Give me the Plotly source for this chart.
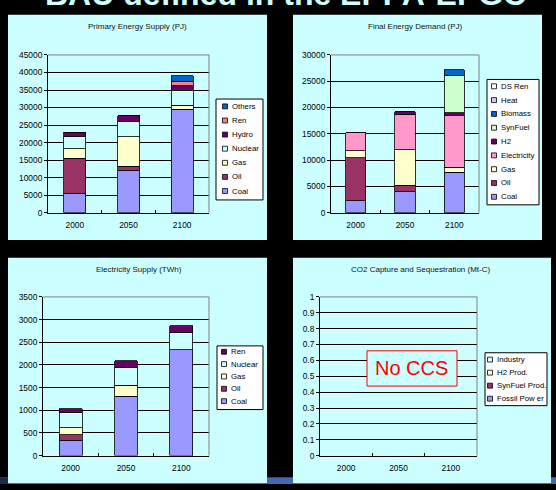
import plotly.graph_objects as go

W, H = 556, 490
FONT = "Liberation Sans"

years = ["2000", "2050", "2100"]

# Primary Energy Supply (PJ)
pes_names = ["Coal", "Oil", "Gas", "Nuclear", "Hydro", "Ren", "Others"]
pes_colors = ["#9999ff", "#993366", "#ffffcc", "#ccffff", "#660066", "#ff8080", "#0066cc"]
pes_coal = [5600, 11900, 29500]
pes_oil = [9900, 1400, 0]
pes_gas = [2700, 8400, 1200]
pes_nuclear = [3500, 4200, 4200]
pes_hydro = [1200, 1700, 1300]
pes_ren = [0, 0, 1300]
pes_others = [0, 0, 1500]

# Final Energy Demand (PJ)
fed_names = ["Coal", "Oil", "Gas", "Electricity", "H2", "SynFuel", "Biomass", "Heat", "DS Ren"]
fed_colors = ["#9999ff", "#993366", "#ffffcc", "#ff99cc", "#660066", "#ccffcc", "#0066cc", "#ccccff", "#ffffff"]
fed_coal = [2300, 4000, 7700]
fed_oil = [8150, 1200, 0]
fed_gas = [1300, 6800, 900]
fed_electricity = [3450, 6700, 9800]
fed_h2 = [0, 500, 650]
fed_synfuel = [0, 0, 6950]
fed_biomass = [0, 0, 1150]
fed_heat = [0, 0, 0]
fed_dsren = [0, 0, 0]

# Electricity Supply (TWh)
els_names = ["Coal", "Oil", "Gas", "Nuclear", "Ren"]
els_colors = ["#9999ff", "#993366", "#ffffcc", "#ccffff", "#660066"]
els_coal = [340, 1306, 2330]
els_oil = [115, 0, 0]
els_gas = [160, 245, 0]
els_nuclear = [325, 397, 390]
els_ren = [95, 144, 144]

# CO2 Capture and Sequestration (Mt-C)
ccs_names = ["Fossil Pow er", "SynFuel Prod.", "H2 Prod.", "Industry"]
ccs_colors = ["#9999ff", "#993366", "#ffffcc", "#ccffff"]
ccs_fossil = [0, 0, 0]
ccs_synfuel = [0, 0, 0]
ccs_h2 = [0, 0, 0]
ccs_industry = [0, 0, 0]


def px(x):
    return x / W


def py(y):
    return 1 - y / H


panels = [
    dict(title="Primary Energy Supply (PJ)", names=pes_names, colors=pes_colors,
         values=[pes_coal, pes_oil, pes_gas, pes_nuclear, pes_hydro, pes_ren, pes_others],
         box=(8, 10, 267, 240), plot=(48, 51, 209, 212), yrange=[0, 45000], dtick=5000,
         title_xy=(137, 22),
         legend=dict(box=(216, 96, 263, 199), first=103.5, step=14.4, sq=225, tx=229.5)),
    dict(title="Final Energy Demand (PJ)", names=fed_names, colors=fed_colors,
         values=[fed_coal, fed_oil, fed_gas, fed_electricity, fed_h2, fed_synfuel,
                 fed_biomass, fed_heat, fed_dsren],
         box=(293, 10, 542, 240), plot=(331, 51, 479, 212), yrange=[0, 30000], dtick=5000,
         title_xy=(415, 22),
         legend=dict(box=(487, 76, 539, 204), first=83, step=14.1, sq=494, tx=498.5)),
    dict(title="Electricity Supply (TWh)", names=els_names, colors=els_colors,
         values=[els_coal, els_oil, els_gas, els_nuclear, els_ren],
         box=(8, 258, 267, 488), plot=(43, 298, 209, 460), yrange=[0, 3500], dtick=500,
         title_xy=(139, 270),
         legend=dict(box=(217, 348, 263, 413), first=354, step=12.6, sq=224, tx=228.5)),
    dict(title="CO2 Capture and Sequestration (Mt-C)", names=ccs_names, colors=ccs_colors,
         values=[ccs_fossil, ccs_synfuel, ccs_h2, ccs_industry],
         box=(293, 258, 551, 488), plot=(320, 298, 477, 460), yrange=[0, 1], dtick=0.1,
         title_xy=(421, 270),
         legend=dict(box=(485, 355, 547, 409), first=362, step=13.3, sq=490, tx=494.5)),
]

fig = go.Figure()
shapes = []
annotations = []

# slide footer strip behind the panels
shapes.append(dict(type="rect", xref="paper", yref="paper", layer="below",
                   x0=0, x1=1, y0=py(489), y1=py(482), fillcolor="#4668b0", line_width=0))
shapes.append(dict(type="rect", xref="paper", yref="paper", layer="below",
                   x0=0, x1=px(8), y0=py(489), y1=py(482), fillcolor="#1c2c4c", line_width=0))

layout_axes = {}
for i, p in enumerate(panels):
    n = i + 1
    xa = "x" if n == 1 else f"x{n}"
    ya = "y" if n == 1 else f"y{n}"
    bx0, by0, bx1, by1 = p["box"]
    shapes.append(dict(type="rect", xref="paper", yref="paper", layer="below",
                       x0=px(bx0), x1=px(bx1), y0=py(by1), y1=py(by0),
                       fillcolor="#ccffff", line_width=0))

    for name, color, vals in zip(p["names"], p["colors"], p["values"]):
        outline = 0.8 if any(v > 0 for v in vals) else 0
        fig.add_trace(go.Bar(x=years, y=vals, name=name, xaxis=xa, yaxis=ya,
                             width=0.41, showlegend=False,
                             marker=dict(color=color, line=dict(color="black", width=outline))))

    x0, y0, x1, y1 = p["plot"]
    layout_axes["xaxis" if n == 1 else f"xaxis{n}"] = dict(
        domain=[px(x0), px(x1)], anchor=ya, type="category", categoryarray=years,
        range=[-0.5, 2.5], showline=True, linecolor="black", linewidth=1,
        ticks="inside", tickson="boundaries", ticklen=3, tickcolor="black",
        ticklabelstandoff=4, showgrid=False,
        tickfont=dict(family=FONT, size=8.4, color="black"))
    layout_axes["yaxis" if n == 1 else f"yaxis{n}"] = dict(
        domain=[py(y1), py(y0)], anchor=xa, range=p["yrange"], dtick=p["dtick"],
        tickformat="d" if p["dtick"] >= 1 else "",
        showline=True, linecolor="black", linewidth=1, ticks="outside", ticklen=3,
        tickcolor="black", showgrid=True, gridcolor="black", gridwidth=1,
        zeroline=False, tickfont=dict(family=FONT, size=8.4, color="black"))

    # grey frame on top and right of the plot area
    shapes.append(dict(type="line", xref="paper", yref="paper", x0=px(x0), x1=px(x1),
                       y0=py(y0), y1=py(y0), line=dict(color="#808080", width=1)))
    shapes.append(dict(type="line", xref="paper", yref="paper", x0=px(x1), x1=px(x1),
                       y0=py(y0), y1=py(y1), line=dict(color="#808080", width=1)))

    tx, ty = p["title_xy"]
    annotations.append(dict(text=p["title"], x=px(tx), y=py(ty), xref="paper", yref="paper",
                            showarrow=False, xanchor="center", yanchor="middle",
                            font=dict(family=FONT, size=8, color="#111111")))

    lg = p["legend"]
    lx0, ly0, lx1, ly1 = lg["box"]
    shapes.append(dict(type="rect", xref="paper", yref="paper", x0=px(lx0), x1=px(lx1),
                       y0=py(ly1), y1=py(ly0), fillcolor="white",
                       line=dict(color="black", width=1)))
    items = list(zip(p["names"], p["colors"]))[::-1]
    for k, (name, color) in enumerate(items):
        cy = lg["first"] + k * lg["step"]
        shapes.append(dict(type="rect", xref="paper", yref="paper",
                           x0=px(lg["sq"] - 2.5), x1=px(lg["sq"] + 2.5),
                           y0=py(cy + 2.5), y1=py(cy - 2.5), fillcolor=color,
                           line=dict(color="black", width=0.8)))
        annotations.append(dict(text=name, x=px(lg["tx"]), y=py(cy), xref="paper",
                                yref="paper", showarrow=False, xanchor="left",
                                yanchor="middle",
                                font=dict(family=FONT, size=7.8, color="black")))

# "No CCS" label box on the sequestration chart
shapes.append(dict(type="rect", xref="paper", yref="paper", x0=px(367), x1=px(457),
                   y0=py(389), y1=py(353), fillcolor="#ccffff",
                   line=dict(color="#ff0000", width=1)))
annotations.append(dict(text="No CCS", x=px(412), y=py(371), xref="paper", yref="paper",
                        showarrow=False, xanchor="center", yanchor="middle",
                        font=dict(family=FONT, size=20, color="#ff0000")))

# slide heading, mostly above the visible area
annotations.append(dict(text="<b>BAU defined in the EPPA-EPGC</b>", x=px(285), y=py(9),
                        xref="paper", yref="paper", showarrow=False, xanchor="center",
                        yanchor="bottom", font=dict(family=FONT, size=32, color="#ccffff")))

fig.update_layout(
    width=W, height=H, margin=dict(l=0, r=0, t=0, b=0),
    paper_bgcolor="black", plot_bgcolor="#c0c0c0",
    barmode="stack", showlegend=False,
    shapes=shapes, annotations=annotations, **layout_axes)

fig.write_html("out.html")
